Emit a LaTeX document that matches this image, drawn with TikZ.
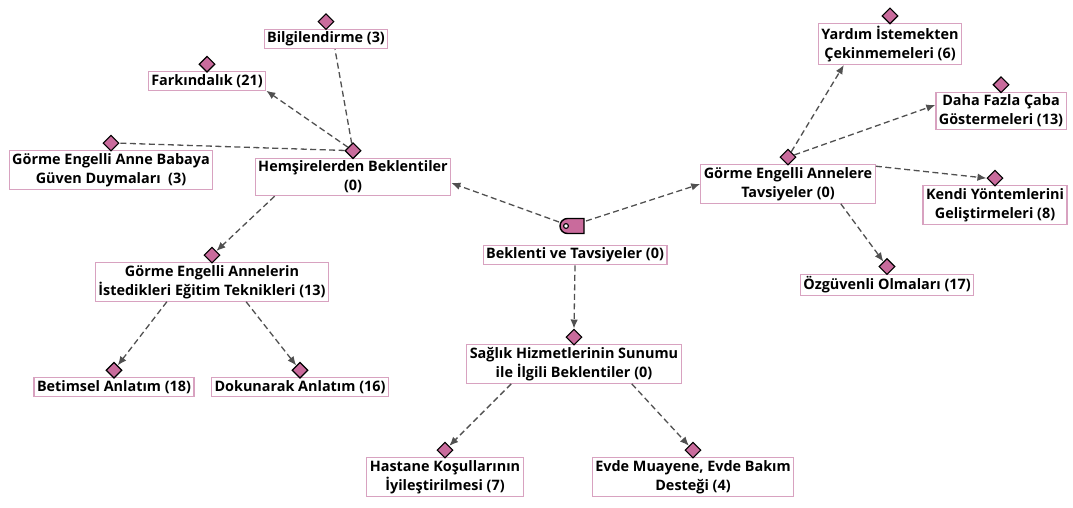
\documentclass[tikz,border=0pt]{standalone}
\usepackage{fontspec}
\setmainfont{Open Sans}
\usetikzlibrary{shapes.geometric,arrows.meta}
\definecolor{boxline}{HTML}{D8A2C0}
\definecolor{mark}{HTML}{C96B9C}
\definecolor{link}{HTML}{505050}
\tikzset{
  lbl/.style={draw=boxline, line width=1.2pt, fill=white, align=center,
    font=\bfseries\fontsize{14.4}{19}\selectfont, inner xsep=3pt, inner ysep=2.5pt},
  dmd/.style={diamond, draw=black, fill=mark, line width=1.1pt,
    minimum width=16pt, minimum height=16pt, inner sep=0pt},
  lnk/.style={draw=link, line width=1.3pt, dash pattern=on 6pt off 3.5pt},
  arr/.style={lnk, -{Latex[length=9pt,width=7.5pt]}},
}
\begin{document}
\begin{tikzpicture}[x=1pt,y=-1pt]
\useasboundingbox (0,0) rectangle (1073,507);

% code nodes
\node[lbl] (root)    at (575,255) {Beklenti ve Tavsiyeler (0)};
\node[lbl] (hem)     at (353,177) {Hemşirelerden Beklentiler\\(0)};
\node[lbl] (bilgi)   at (326,39)  {Bilgilendirme (3)};
\node[lbl] (fark)    at (207,81)  {Farkındalık (21)};
\node[lbl] (guven)   at (111,170) {Görme Engelli Anne Babaya\\Güven Duymaları\ \ (3)};
\node[lbl] (egitim)  at (212,282) {Görme Engelli Annelerin\\İstedikleri Eğitim Teknikleri (13)};
\node[lbl] (betim)   at (114,387) {Betimsel Anlatım (18)};
\node[lbl] (dokun)   at (300,387) {Dokunarak Anlatım (16)};
\node[lbl] (tavs)    at (788,184) {Görme Engelli Annelere\\Tavsiyeler (0)};
\node[lbl] (yardim)  at (890,44)  {Yardım İstemekten\\Çekinmemeleri (6)};
\node[lbl] (daha)    at (1001,111){Daha Fazla Çaba\\Göstermeleri (13)};
\node[lbl] (kendi)   at (995,205) {Kendi Yöntemlerini\\Geliştirmeleri (8)};
\node[lbl] (ozg)     at (887,285) {Özgüvenli Olmaları (17)};
\node[lbl] (saglik)  at (574,364) {Sağlık Hizmetlerinin Sunumu\\ile İlgili Beklentiler (0)};
\node[lbl] (hastane) at (445,477) {Hastane Koşullarının\\İyileştirilmesi (7)};
\node[lbl] (evde)    at (693,477) {Evde Muayene, Evde Bakım\\Desteği (4)};

% diamond markers above the code boxes
\foreach \n in {hem,bilgi,fark,guven,egitim,betim,dokun,tavs,yardim,daha,kendi,ozg,saglik,hastane,evde}
  \node[dmd, anchor=south] (d-\n) at ([yshift=-1.5pt]\n.north) {};

% tag marker of the root
\coordinate (tag) at (572,226);
\draw[fill=mark, draw=black, line width=1.4pt]
  (584,218.5) -- (584,233.5) -- (567.5,233.5)
  arc[start angle=90, end angle=270, radius=7.5] -- cycle;
\draw[fill=white, draw=black, line width=1.1pt] (566,226) circle (2.4);

% links
\draw[arr] (559,222) -- ([yshift=-6pt]hem.east);
\draw[arr] (586,221) -- (tavs.west);
\draw[arr] (root.south) -- (d-saglik.north);

\draw[lnk] (d-hem) -- ([xshift=9pt]bilgi.south);
\draw[arr] (d-hem) -- (fark.south east);
\draw[lnk] (d-hem) -- (d-guven.east);
\draw[arr] ([xshift=20pt]hem.south west) -- (d-egitim);
\draw[arr] ([xshift=72pt]egitim.south west) -- (d-betim);
\draw[arr] ([xshift=-83pt]egitim.south east) -- (d-dokun);

\draw[arr] (d-tavs) -- ([xshift=26pt]yardim.south west);
\draw[arr] (d-tavs) -- ([yshift=6pt]daha.west);
\draw[arr] ([yshift=-2pt]tavs.north east) -- (d-kendi.west);
\draw[arr] ([xshift=-35pt]tavs.south east) -- (d-ozg);

\draw[arr] ([xshift=45pt]saglik.south west) -- (d-hastane);
\draw[arr] ([xshift=-50pt]saglik.south east) -- (d-evde);
\end{tikzpicture}
\end{document}
